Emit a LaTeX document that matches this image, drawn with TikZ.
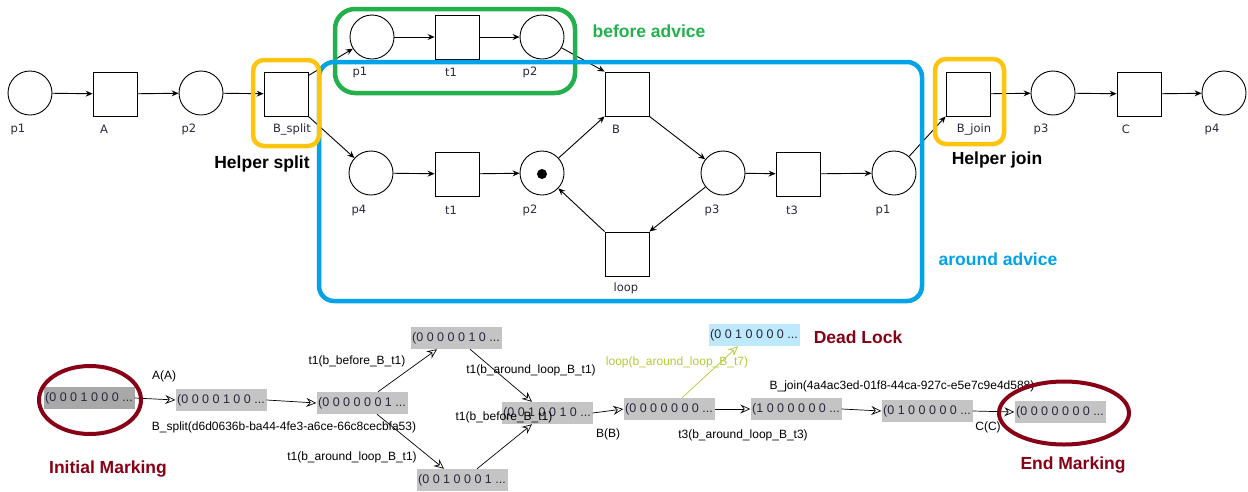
\documentclass[tikz,border=0pt]{standalone}
\usepackage{fontspec}
\setmainfont{Liberation Sans}
\newfontfamily\netfont{DejaVu Sans}
\usetikzlibrary{arrows.meta,shapes.geometric}
\definecolor{hyellow}{RGB}{255,196,14}
\definecolor{hgreen}{RGB}{34,177,76}
\definecolor{hblue}{RGB}{0,162,232}
\definecolor{hred}{RGB}{136,0,21}
\definecolor{lgreen}{RGB}{176,204,52}
\definecolor{ngray}{RGB}{196,196,196}
\definecolor{dgray}{RGB}{168,168,168}
\definecolor{lblue}{RGB}{190,232,252}
\definecolor{ntext}{RGB}{40,40,60}
\tikzset{
  place/.style={circle,draw,line width=0.9pt,minimum size=44pt,inner sep=0pt},
  trans/.style={rectangle,draw,line width=0.9pt,minimum size=44pt,inner sep=0pt},
  plabel/.style={font=\netfont\fontsize{11.5}{13}\selectfont,text=ntext,inner sep=0pt},
  arc/.style={line width=0.9pt,-{Stealth[length=7pt,width=6pt,inset=2.5pt]}},
  marking/.style={rectangle,minimum width=91pt,minimum height=22pt,inner sep=1pt,font=\fontsize{12.5}{14}\selectfont,text=ntext},
  elabel/.style={font=\fontsize{12}{14}\selectfont,inner sep=0pt},
  redge/.style={line width=0.7pt,-{Stealth[open,length=10pt,width=9pt,inset=3.5pt]}},
  bigtext/.style={font=\bfseries\fontsize{17.5}{20}\selectfont,inner sep=0pt},
  frame/.style={draw,line width=4.5pt,inner sep=0pt}
}
\begin{document}
\begin{tikzpicture}[x=1pt,y=-1pt]
\useasboundingbox (0,0) rectangle (1248,491);
% ---------- Petri net ----------
\node[place] (p1) at (30,93) {};
\node[trans] (A) at (115,94) {};
\node[place] (p2) at (201,93) {};
\node[trans] (Bs) at (286,94) {};
\node[place] (gp1) at (372,37) {};
\node[trans] (gt1) at (457,37) {};
\node[place] (gp2) at (542,37) {};
\node[trans] (B) at (627,94) {};
\node[place] (lp4) at (371,173) {};
\node[trans] (lt1) at (457,174) {};
\node[place] (lp2) at (542,173) {};
\node[circle,fill=black,inner sep=0pt,minimum size=10pt] (tok) at (542,174) {};
\node[place] (lp3) at (723,173) {};
\node[trans] (lt3) at (798,174) {};
\node[place] (lp1) at (894,173) {};
\node[trans] (loop) at (627,254) {};
\node[trans] (Bj) at (968,94) {};
\node[place] (p3) at (1053,93) {};
\node[trans] (C) at (1139,94) {};
\node[place] (p4) at (1224,93) {};

\node[plabel] (lbp1) at (18,129) {p1};
\node[plabel] (lbA) at (104,129) {A};
\node[plabel] (lbp2) at (189,129) {p2};
\node[plabel] (lbBs) at (292,129) {B\_split};
\node[plabel] (lbgp1) at (360,72) {p1};
\node[plabel] (lbgt1) at (451,72) {t1};
\node[plabel] (lbgp2) at (530,72) {p2};
\node[plabel] (lbB) at (616,129) {B};
\node[plabel] (lblp4) at (359,210) {p4};
\node[plabel] (lblt1) at (451,210) {t1};
\node[plabel] (lblp2) at (530,210) {p2};
\node[plabel] (lblp3) at (712,210) {p3};
\node[plabel] (lblt3) at (792,210) {t3};
\node[plabel] (lblp1) at (883,210) {p1};
\node[plabel] (lbloop) at (626,288) {loop};
\node[plabel] (lbBj) at (974,129) {B\_join};
\node[plabel] (lbp3) at (1041,129) {p3};
\node[plabel] (lbC) at (1126,129) {C};
\node[plabel] (lbp4) at (1212,129) {p4};

\draw[arc] (p1) -- (A);
\draw[arc] (A) -- (p2);
\draw[arc] (p2) -- (Bs);
\draw[arc] ([yshift=-4pt]Bs.north east) -- (gp1);
\draw[arc] (Bs.south east) -- (lp4);
\draw[arc] (gp1) -- (gt1);
\draw[arc] (gt1) -- (gp2);
\draw[arc] (gp2) -- (B.north west);
\draw[arc] (lp4) -- (lt1);
\draw[arc] (lt1) -- (lp2);
\draw[arc] (lp2) -- (B.south west);
\draw[arc] (B.south east) -- (lp3);
\draw[arc] (lp3) -- (lt3);
\draw[arc] (lt3) -- (lp1);
\draw[arc] (lp3) -- (loop.north east);
\draw[arc] (loop.north west) -- (lp2);
\draw[arc] (lp1) -- (Bj.south west);
\draw[arc] (Bj) -- (p3);
\draw[arc] (p3) -- (C);
\draw[arc] (C) -- (p4);

% ---------- frames ----------
\node[frame,draw=hgreen,rounded corners=20pt,minimum width=240pt,minimum height=84pt] (before) at (455,51) {};
\node[frame,draw=hblue,rounded corners=15pt,minimum width=603pt,minimum height=239pt] (around) at (620.5,181.5) {};
\node[frame,draw=hyellow,rounded corners=11pt,minimum width=66pt,minimum height=86pt] (hsplit) at (286,103) {};
\node[frame,draw=hyellow,rounded corners=11pt,minimum width=69pt,minimum height=85pt] (hjoin) at (969.5,101.5) {};

\node[bigtext] (tsplit) at (262,164) {Helper split};
\node[bigtext,text=hgreen] (tbefore) at (649,31) {before advice};
\node[bigtext] (tjoin) at (997,160) {Helper join};
\node[bigtext,text=hblue] (taround) at (998,259) {around advice};

% ---------- reachability graph ----------
\node[marking,fill=dgray] (m1) at (89,398) {(0 0 0 1 0 0 0 ...};
\node[marking,fill=ngray] (m2) at (221,400) {(0 0 0 0 1 0 0 ...};
\node[marking,fill=ngray] (m3) at (362,403) {(0 0 0 0 0 0 1 ...};
\node[marking,fill=ngray] (m4) at (456,338) {(0 0 0 0 0 1 0 ...};
\node[marking,fill=ngray] (m5) at (462,480) {(0 0 1 0 0 0 1 ...};
\node[marking,fill=ngray] (m6) at (547,413) {(0 0 1 0 0 1 0 ...};
\node[marking,fill=ngray] (m7) at (669,409) {(0 0 0 0 0 0 0 ...};
\node[marking,fill=lblue] (dead) at (754,335) {(0 0 1 0 0 0 0 ...};
\node[marking,fill=ngray] (m8) at (796,409) {(1 0 0 0 0 0 0 ...};
\node[marking,fill=ngray] (m9) at (927,411) {(0 1 0 0 0 0 0 ...};
\node[marking,fill=ngray] (m10) at (1060,412) {(0 0 0 0 0 0 0 ...};

\draw[redge] (m1.east) -- (m2.west);
\draw[redge] (m2.east) -- (m3.west);
\draw[redge] ([xshift=16pt]m3.north) -- ([xshift=-19pt]m4.south);
\draw[redge] ([xshift=15pt]m3.south) -- ([xshift=-18pt]m5.north);
\draw[redge] ([xshift=14pt]m4.south) -- ([xshift=-15pt]m6.north);
\draw[redge] ([xshift=15pt]m5.north) -- ([xshift=-15pt]m6.south);
\draw[redge] (m6.east) -- (m7.west);
\draw[redge,draw=lgreen] ([xshift=13pt]m7.north) -- ([xshift=-16pt]dead.south);
\draw[redge] (m7.east) -- (m8.west);
\draw[redge] (m8.east) -- (m9.west);
\draw[redge] (m9.east) -- (m10.west);

\node[elabel] (eA) at (164,376) {A(A)};
\node[elabel] (eBs) at (284,427) {B\_split(d6d0636b-ba44-4fe3-a6ce-66c8cecbfa53)};
\node[elabel] (e34) at (357,361) {t1(b\_before\_B\_t1)};
\node[elabel] (e35) at (352,457) {t1(b\_around\_loop\_B\_t1)};
\node[elabel] (e46) at (531,370) {t1(b\_around\_loop\_B\_t1)};
\node[elabel] (e56) at (504,417) {t1(b\_before\_B\_t1)};
\node[elabel] (eB) at (608,434) {B(B)};
\node[elabel,text=lgreen] (eloop) at (677,362) {loop(b\_around\_loop\_B\_t7)};
\node[elabel] (et3) at (743,435) {t3(b\_around\_loop\_B\_t3)};
\node[elabel] (eBj) at (902,386) {B\_join(4a4ac3ed-01f8-44ca-927c-e5e7c9e4d588)};
\node[elabel] (eC) at (988,427) {C(C)};

\node[ellipse,draw=hred,line width=4pt,minimum width=102pt,minimum height=68pt] (initring) at (90,400) {};
\node[ellipse,draw=hred,line width=4pt,minimum width=130pt,minimum height=63pt] (endring) at (1064,413) {};

\node[bigtext,text=hred] (tinit) at (108,469) {Initial Marking};
\node[bigtext,text=hred] (tdead) at (858,337) {Dead Lock};
\node[bigtext,text=hred] (tend) at (1073,465) {End Marking};
\end{tikzpicture}
\end{document}
